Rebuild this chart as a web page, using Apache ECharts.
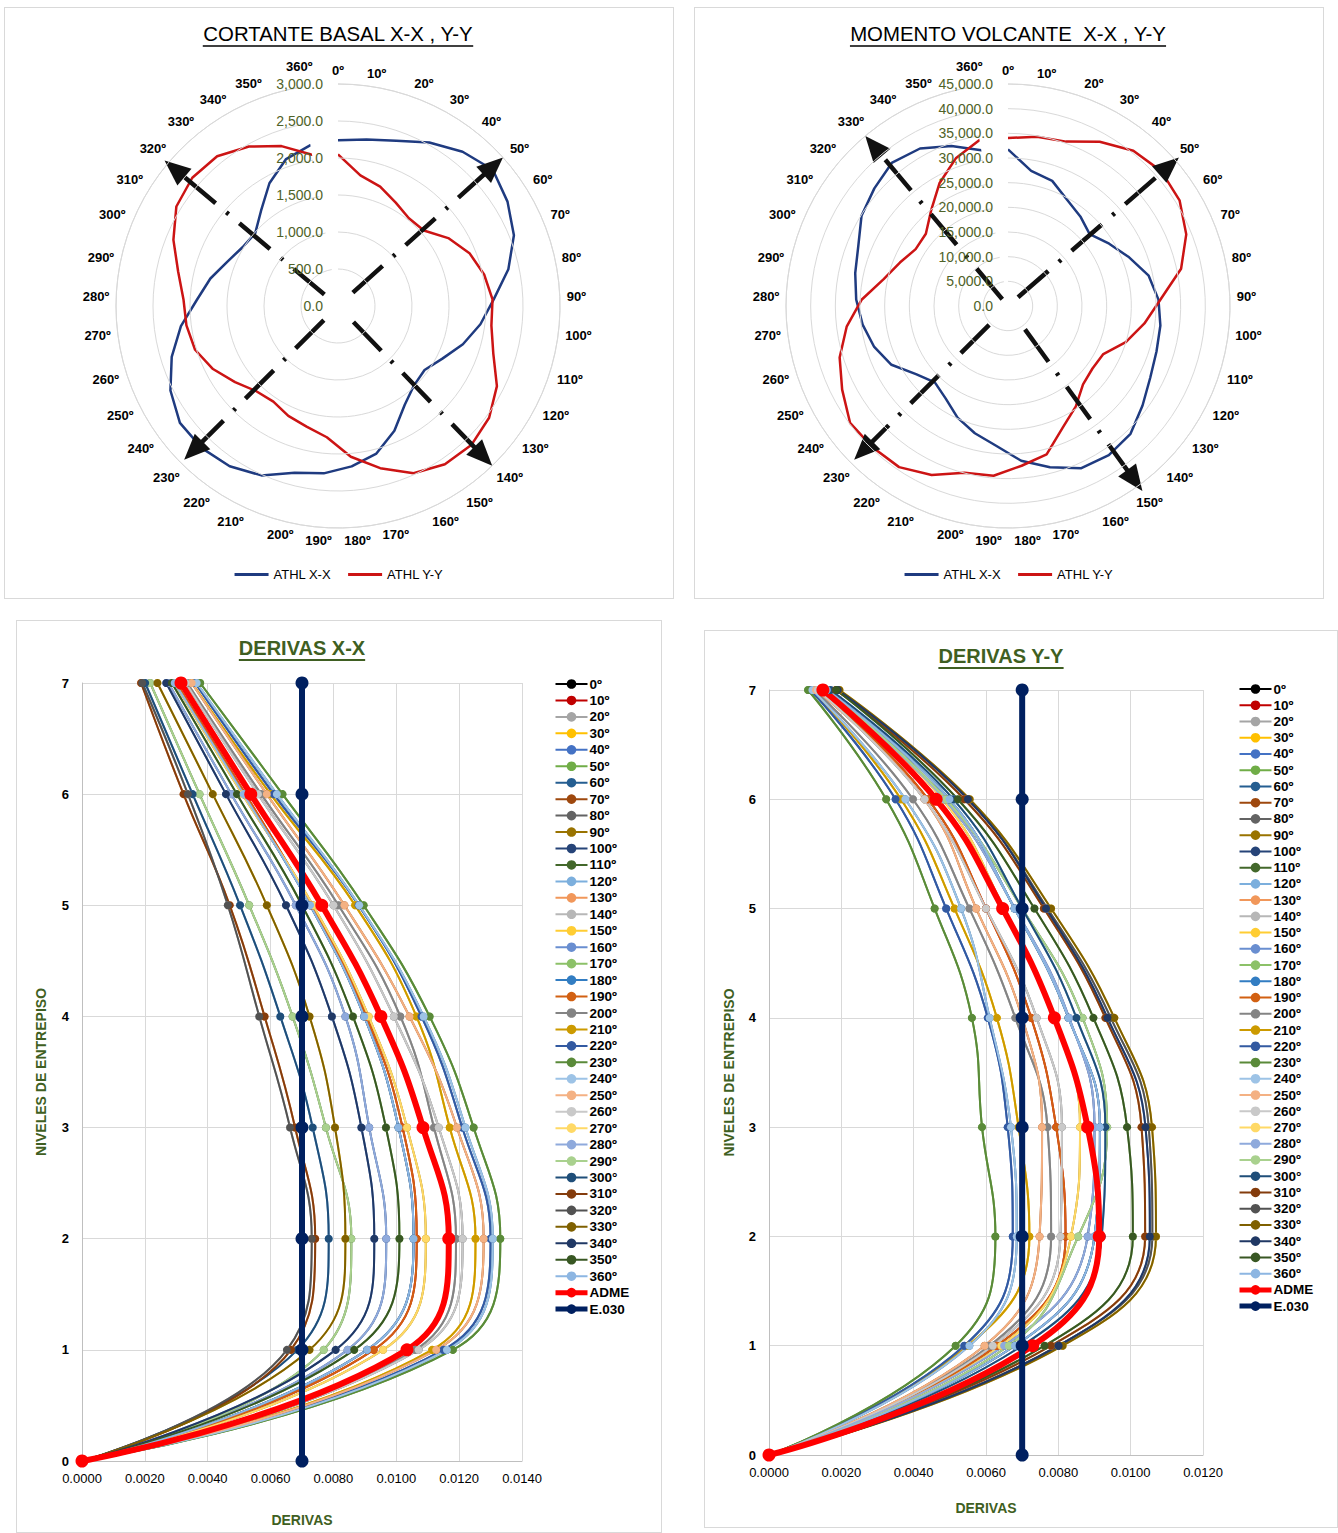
<!DOCTYPE html>
<html><head><meta charset="utf-8">
<script src="https://cdn.jsdelivr.net/npm/echarts@6/dist/echarts.min.js"></script>
<style>
html,body{margin:0;padding:0;background:#fff}
body{width:1338px;height:1533px;position:relative;overflow:hidden}
.p{position:absolute;box-sizing:border-box;border:1px solid #d9d9d9;background:#fff}
</style></head><body>
<div id="c1" class="p" style="left:4px;top:7px;width:670px;height:592px"></div>
<div id="c2" class="p" style="left:694px;top:7px;width:630px;height:592px"></div>
<div id="c3" class="p" style="left:16px;top:620px;width:646px;height:913px"></div>
<div id="c4" class="p" style="left:704px;top:630px;width:634px;height:898px"></div>
<script>
// ---------------- DATA ----------------
const angleLabels = ['0º','10º','20º','30º','40º','50º','60º','70º','80º','90º','100º','110º','120º','130º','140º','150º','160º','170º','180º','190º','200º','210º','220º','230º','240º','250º','260º','270º','280º','290º','300º','310º','320º','330º','340º','350º','360º'];

// Cortante basal (one value per angle label)
const cortanteXX = [2240,2284,2367,2530,2680,2787,2690,2562,2355,2106,1940,1765,1580,1455,1485,1611,1850,2060,2175,2270,2330,2512,2614,2660,2657,2536,2350,2140,1910,1764,1610,1515,1490,1655,1900,2106,2205];
const cortanteYY = [2050,1790,1710,1600,1525,1545,1750,1915,2020,2090,2090,2195,2405,2540,2603,2580,2480,2265,2045,1780,1685,1630,1560,1595,1730,1892,2020,2065,2090,2210,2397,2565,2623,2600,2468,2292,2073];

// Momento volcante
const momentoXX = [31750,27800,26900,24630,23340,22050,24080,26460,29170,30530,31140,31480,32290,33920,35890,36500,36090,33780,31480,28430,26660,24830,22590,21440,23200,26460,28360,29710,30800,31680,32700,34870,36090,37380,36570,34400,32020];
const momentoYY = [34060,34800,35340,38130,40440,41380,40840,38940,35890,30940,27880,24970,21640,21300,21980,24560,27000,31070,32500,34530,34940,37580,39420,39690,39820,37650,35690,32970,29710,25780,23610,21980,22180,24830,28490,31750,34130];

// Arrow annotations (start / end radius as fraction of axis max, angle in degrees)
const arrowsCortante = [[0.09,1.0,48],[0.10,1.0,136],[0.09,0.98,225],[0.08,1.02,310]];
const arrowsMomento  = [[0.06,1.02,49],[0.13,1.03,144],[0.12,0.98,225],[0.04,1.0,320]];

// Derivas
const levels = [0,1,2,3,4,5,6,7];
const derivNames = ['0º','10º','20º','30º','40º','50º','60º','70º','80º','90º','100º','110º','120º','130º','140º','150º','160º','170º','180º','190º','200º','210º','220º','230º','240º','250º','260º','270º','280º','290º','300°','310º','320º','330º','340º','350º','360º'];

const derivasXX = [
 [0,0.00907,0.01055,0.01007,0.00898,0.00726,0.00514,0.00295],
 [0,0.00928,0.01065,0.01020,0.00905,0.00730,0.00520,0.00300],
 [0,0.01060,0.01190,0.01120,0.01013,0.00816,0.00570,0.00335],
 [0,0.01114,0.01252,0.01170,0.01064,0.00869,0.00600,0.00350],
 [0,0.01150,0.01300,0.01210,0.01080,0.00880,0.00610,0.00360],
 [0,0.01180,0.01331,0.01246,0.01106,0.00896,0.00638,0.00376],
 [0,0.01161,0.01307,0.01220,0.01087,0.00882,0.00620,0.00365],
 [0,0.01127,0.01278,0.01193,0.01042,0.00835,0.00588,0.00349],
 [0,0.01071,0.01211,0.01135,0.00992,0.00800,0.00560,0.00330],
 [0,0.00958,0.01094,0.01034,0.00912,0.00735,0.00510,0.00295],
 [0,0.00845,0.00968,0.00914,0.00838,0.00680,0.00475,0.00275],
 [0,0.00769,0.00857,0.00776,0.00670,0.00532,0.00374,0.00217],
 [0,0.00685,0.00785,0.00734,0.00631,0.00503,0.00352,0.00201],
 [0,0.00665,0.00742,0.00678,0.00581,0.00470,0.00323,0.00188],
 [0,0.00652,0.00731,0.00662,0.00564,0.00464,0.00337,0.00192],
 [0,0.00724,0.00838,0.00805,0.00724,0.00588,0.00416,0.00240],
 [0,0.00807,0.00930,0.00889,0.00795,0.00649,0.00458,0.00268],
 [0,0.00866,0.01010,0.00967,0.00862,0.00700,0.00493,0.00286],
 [0,0.00907,0.01055,0.01007,0.00898,0.00726,0.00514,0.00295],
 [0,0.00928,0.01065,0.01020,0.00905,0.00730,0.00520,0.00300],
 [0,0.01060,0.01190,0.01120,0.01013,0.00816,0.00570,0.00335],
 [0,0.01114,0.01252,0.01170,0.01064,0.00869,0.00600,0.00350],
 [0,0.01150,0.01300,0.01210,0.01080,0.00880,0.00610,0.00360],
 [0,0.01180,0.01331,0.01246,0.01106,0.00896,0.00638,0.00376],
 [0,0.01161,0.01307,0.01220,0.01087,0.00882,0.00620,0.00365],
 [0,0.01127,0.01278,0.01193,0.01042,0.00835,0.00588,0.00349],
 [0,0.01071,0.01211,0.01135,0.00992,0.00800,0.00560,0.00330],
 [0,0.00958,0.01094,0.01034,0.00912,0.00735,0.00510,0.00295],
 [0,0.00845,0.00968,0.00914,0.00838,0.00680,0.00475,0.00275],
 [0,0.00769,0.00857,0.00776,0.00670,0.00532,0.00374,0.00217],
 [0,0.00685,0.00785,0.00734,0.00631,0.00503,0.00352,0.00201],
 [0,0.00665,0.00742,0.00678,0.00581,0.00470,0.00323,0.00188],
 [0,0.00652,0.00731,0.00662,0.00564,0.00464,0.00337,0.00192],
 [0,0.00724,0.00838,0.00805,0.00724,0.00588,0.00416,0.00240],
 [0,0.00807,0.00930,0.00889,0.00795,0.00649,0.00458,0.00268],
 [0,0.00866,0.01010,0.00967,0.00862,0.00700,0.00493,0.00286],
 [0,0.00907,0.01055,0.01007,0.00898,0.00726,0.00514,0.00295]
];
const admeXX = [0,0.01034,0.01167,0.01085,0.00951,0.00763,0.00537,0.00315];

const derivasYY = [
 [0,0.00680,0.00900,0.00915,0.00828,0.00679,0.00499,0.00160],
 [0,0.00630,0.00820,0.00794,0.00725,0.00600,0.00440,0.00140],
 [0,0.00610,0.00780,0.00770,0.00681,0.00554,0.00398,0.00125],
 [0,0.00550,0.00720,0.00690,0.00630,0.00513,0.00365,0.00120],
 [0,0.00540,0.00674,0.00660,0.00605,0.00490,0.00350,0.00115],
 [0,0.00516,0.00626,0.00589,0.00561,0.00458,0.00324,0.00108],
 [0,0.00554,0.00685,0.00669,0.00610,0.00531,0.00377,0.00120],
 [0,0.00596,0.00748,0.00755,0.00700,0.00573,0.00430,0.00130],
 [0,0.00619,0.00806,0.00810,0.00740,0.00600,0.00430,0.00135],
 [0,0.00642,0.00835,0.00860,0.00790,0.00650,0.00480,0.00155],
 [0,0.00650,0.00881,0.00900,0.00830,0.00680,0.00485,0.00155],
 [0,0.00663,0.00855,0.00935,0.00867,0.00700,0.00490,0.00160],
 [0,0.00700,0.00920,0.00930,0.00850,0.00700,0.00510,0.00170],
 [0,0.00780,0.01040,0.01030,0.00930,0.00760,0.00540,0.00185],
 [0,0.00800,0.01060,0.01050,0.00945,0.00770,0.00550,0.00190],
 [0,0.00812,0.01070,0.01059,0.00955,0.00780,0.00555,0.00195],
 [0,0.00801,0.01053,0.01041,0.00936,0.00766,0.00550,0.00190],
 [0,0.00762,0.01006,0.00990,0.00897,0.00734,0.00522,0.00186],
 [0,0.00680,0.00900,0.00915,0.00828,0.00679,0.00499,0.00160],
 [0,0.00630,0.00820,0.00794,0.00725,0.00600,0.00440,0.00140],
 [0,0.00610,0.00780,0.00770,0.00681,0.00554,0.00398,0.00125],
 [0,0.00550,0.00720,0.00690,0.00630,0.00513,0.00365,0.00120],
 [0,0.00540,0.00674,0.00660,0.00605,0.00490,0.00350,0.00115],
 [0,0.00516,0.00626,0.00589,0.00561,0.00458,0.00324,0.00108],
 [0,0.00554,0.00685,0.00669,0.00610,0.00531,0.00377,0.00120],
 [0,0.00596,0.00748,0.00755,0.00700,0.00573,0.00430,0.00130],
 [0,0.00619,0.00806,0.00810,0.00740,0.00600,0.00430,0.00135],
 [0,0.00642,0.00835,0.00860,0.00790,0.00650,0.00480,0.00155],
 [0,0.00650,0.00881,0.00900,0.00830,0.00680,0.00485,0.00155],
 [0,0.00663,0.00855,0.00935,0.00867,0.00700,0.00490,0.00160],
 [0,0.00700,0.00920,0.00930,0.00850,0.00700,0.00510,0.00170],
 [0,0.00780,0.01040,0.01030,0.00930,0.00760,0.00540,0.00185],
 [0,0.00800,0.01060,0.01050,0.00945,0.00770,0.00550,0.00190],
 [0,0.00812,0.01070,0.01059,0.00955,0.00780,0.00555,0.00195],
 [0,0.00801,0.01053,0.01041,0.00936,0.00766,0.00550,0.00190],
 [0,0.00762,0.01006,0.00990,0.00897,0.00734,0.00522,0.00186],
 [0,0.00680,0.00900,0.00915,0.00828,0.00679,0.00499,0.00160]
];
const admeYY = [0,0.00729,0.00913,0.00881,0.00789,0.00646,0.00462,0.00149];
const e030 = [0.007,0.007,0.007,0.007,0.007,0.007,0.007,0.007];

// ---------------- STYLE ----------------
const seriesColors = ['#000000','#C00000','#A5A5A5','#FFC000','#4472C4','#70AD47','#255E91','#9E480E','#636363','#997300','#264478','#43682B','#7CAFDD','#F1975A','#B7B7B7','#FFCD33','#698ED0','#8CC168','#327DC2','#D26012','#848484','#CC9A00','#335AA1','#5A8A39','#9DC3E6','#F4B183','#C9C9C9','#FFD966','#8FAADC','#A9D18E','#1F4E79','#843C0C','#525252','#7F6000','#203864','#385723','#8DB6E2'];
const GREEN = '#3F5F22';
const NARROW = '"Liberation Sans Narrow","Arial Narrow","Liberation Sans",Arial,sans-serif';
const SANS = '"Liberation Sans",Arial,sans-serif';

function textWidth(txt, font) {
  const c = document.createElement('canvas').getContext('2d');
  c.font = font; return c.measureText(txt).width;
}
function titleGraphic(txt, cx, cy, size, weight, color, ulY) {
  const font = weight + ' ' + size + 'px ' + NARROW;
  const w = textWidth(txt, font);
  return [
    {type:'text', x:cx, y:cy, style:{text:txt, font:font, fill:color, align:'center', verticalAlign:'middle'}},
    {type:'line', shape:{x1:cx-w/2, y1:ulY, x2:cx+w/2, y2:ulY}, style:{stroke:color, lineWidth: weight==='bold'?2:1.3}}
  ];
}

function polarOption(title, tsize, tcx, center, xx, yy, maxV, interval, arrows) {
  const radius = 222;
  const closed = v => v.map((r, i) => [r, i]).concat([[v[0], 0]]);
  return {
    animation:false,
    graphic: titleGraphic(title, tcx, 26, tsize, 'normal', '#000', 38),
    polar:[{center:center, radius:radius},{center:center, radius:radius}],
    angleAxis:[
      {polarIndex:0, type:'category', data:angleLabels, startAngle:90, clockwise:true, boundaryGap:false,
       axisLine:{show:true, lineStyle:{color:'#d9d9d9', width:1}}, axisTick:{show:false},
       splitLine:{show:false},
       axisLabel:{interval:0, margin:7, fontFamily:SANS, fontWeight:'bold', fontSize:13, color:'#000',
         formatter: v => v === angleLabels[angleLabels.length-1] ? '{up|' + v + '}' : v,
         rich:{up:{fontFamily:SANS, fontWeight:'bold', fontSize:13, color:'#000', padding:[0,0,7,0]}}}},
      {polarIndex:1, type:'value', min:0, max:360, startAngle:90, clockwise:true, show:false,
       axisLine:{show:false}, axisLabel:{show:false}, splitLine:{show:false}, axisTick:{show:false}}
    ],
    radiusAxis:[
      {polarIndex:0, type:'value', min:0, max:maxV, interval:interval,
       axisLine:{show:false}, axisTick:{show:false},
       axisLabel:{fontFamily:SANS, fontSize:14, color:'#4F6228', margin:15,
         formatter:v => v.toLocaleString('en-US',{minimumFractionDigits:1, maximumFractionDigits:1})},
       splitLine:{show:true, lineStyle:{color:'#d9d9d9', width:1}}, z:10},
      {polarIndex:1, type:'value', min:0, max:maxV, show:false,
       axisLine:{show:false}, axisLabel:{show:false}, splitLine:{show:false}, axisTick:{show:false}}
    ],
    legend:{data:['ATHL X-X','ATHL Y-Y'], left:'center', top:555, icon:'rect', itemWidth:34, itemHeight:3, itemGap:17,
      textStyle:{fontFamily:SANS, fontSize:13, color:'#000'}},
    series:[
      {name:'ATHL X-X', type:'line', coordinateSystem:'polar', polarIndex:0, data:closed(xx), symbol:'none',
       lineStyle:{color:'#1F3B80', width:2.5}, itemStyle:{color:'#1F3B80'}, z:3},
      {name:'ATHL Y-Y', type:'line', coordinateSystem:'polar', polarIndex:0, data:closed(yy), symbol:'none',
       lineStyle:{color:'#CC1414', width:2.5}, itemStyle:{color:'#CC1414'}, z:3},
      {type:'custom', coordinateSystem:'polar', polarIndex:1, z:5, silent:true,
       encode:{radius:0, angle:2},
       data: arrows.map(a => [a[0]*maxV, a[1]*maxV, a[2]]),
       renderItem:(params, api) => {
         const p0 = api.coord([api.value(0), api.value(2)]);
         const p1 = api.coord([api.value(1), api.value(2)]);
         const dx = p1[0]-p0[0], dy = p1[1]-p0[1], L = Math.hypot(dx, dy);
         const ux = dx/L, uy = dy/L, hl = 26, hw = 11;
         const b = [p1[0]-ux*hl, p1[1]-uy*hl];
         return {type:'group', children:[
           {type:'line', shape:{x1:p0[0], y1:p0[1], x2:b[0]+ux*2, y2:b[1]+uy*2},
            style:{stroke:'#111', lineWidth:4.5, lineDash:[40,14,3,14], lineCap:'butt'}},
           {type:'polygon', shape:{points:[p1, [b[0]-uy*hw, b[1]+ux*hw], [b[0]+uy*hw, b[1]-ux*hw]]},
            style:{fill:'#111'}}
         ]};
       }}
    ]
  };
}

function derivOption(title, tcx, tcy, ulY, rows, adme, xmax, grid, legendPos, itemStep, nameGapX, nameGapY) {
  const series = rows.map((r, i) => ({
    name: derivNames[i], type:'line', smooth:0.45, symbol:'circle', symbolSize:8,
    data: r.map((v, k) => [v, levels[k]]),
    lineStyle:{color:seriesColors[i], width:2}, itemStyle:{color:seriesColors[i]}
  }));
  series.push({name:'ADME', type:'line', smooth:0.45, symbol:'circle', symbolSize:13,
    data: adme.map((v, k) => [v, levels[k]]), lineStyle:{color:'#FF0000', width:6}, itemStyle:{color:'#FF0000'}});
  series.push({name:'E.030', type:'line', symbol:'circle', symbolSize:13,
    data: e030.map((v, k) => [v, levels[k]]), lineStyle:{color:'#002060', width:6}, itemStyle:{color:'#002060'}});
  const itemH = 14;
  const legendData = derivNames.map(n => ({name:n})).concat([
    {name:'ADME', lineStyle:{width:5}},
    {name:'E.030', lineStyle:{width:5}}
  ]);
  return {
    animation:false,
    graphic: titleGraphic(title, tcx, tcy, 20, 'bold', GREEN, ulY),
    grid: grid,
    xAxis:{type:'value', min:0, max:xmax, interval:0.002,
      name:'DERIVAS', nameLocation:'middle', nameGap:nameGapX,
      nameTextStyle:{fontFamily:NARROW, fontWeight:'bold', fontSize:14, color:GREEN},
      axisLine:{show:true, lineStyle:{color:'#bfbfbf'}}, axisTick:{show:false},
      axisLabel:{formatter:v => v.toFixed(4), fontFamily:SANS, fontSize:13, color:'#000', margin:11},
      splitLine:{show:true, lineStyle:{color:'#d9d9d9', width:1}}},
    yAxis:{type:'value', min:0, max:7, interval:1,
      name:'NIVELES DE ENTREPISO', nameLocation:'middle', nameGap:nameGapY, nameRotate:90,
      nameTextStyle:{fontFamily:NARROW, fontWeight:'bold', fontSize:14, color:GREEN},
      axisLine:{show:true, lineStyle:{color:'#bfbfbf'}}, axisTick:{show:false},
      axisLabel:{fontFamily:SANS, fontWeight:'bold', fontSize:13, color:'#000', margin:13},
      splitLine:{show:true, lineStyle:{color:'#d9d9d9', width:1}}},
    legend:{orient:'vertical', left:legendPos[0], top:legendPos[1], itemWidth:32, itemHeight:12,
      itemGap: itemStep - itemH, data: legendData,
      textStyle:{fontFamily:SANS, fontWeight:'bold', fontSize:13.5, lineHeight:13, color:'#000', padding:[0,0,0,-3]}},
    series: series
  };
}

const R = {renderer:'svg'};
echarts.init(document.getElementById('c1'), null, R).setOption(
  polarOption('CORTANTE BASAL X-X , Y-Y', 20.4, 333, [333, 298], cortanteXX, cortanteYY, 3000, 500, arrowsCortante));
echarts.init(document.getElementById('c2'), null, R).setOption(
  polarOption('MOMENTO VOLCANTE  X-X , Y-Y', 20.4, 313, [313, 298], momentoXX, momentoYY, 45000, 5000, arrowsMomento));
echarts.init(document.getElementById('c3'), null, R).setOption(
  derivOption('DERIVAS X-X', 285, 27, 39, derivasXX, admeXX, 0.014,
    {left:65, top:62, width:440, height:782}, [531, 51], 16.45, 52, 34));
echarts.init(document.getElementById('c4'), null, R).setOption(
  derivOption('DERIVAS Y-Y', 296, 25, 37, derivasYY, admeYY, 0.012,
    {left:64, top:59, width:434, height:765}, [527, 46], 16.24, 46, 33));
</script>
</body></html>
